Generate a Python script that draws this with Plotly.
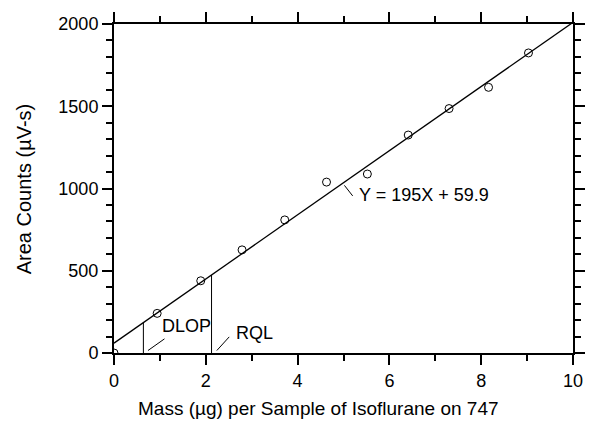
import plotly.graph_objects as go

# Calibration standards: mass (µg) vs. detector area counts (µV-s)
mass = [0.0, 0.94, 1.89, 2.79, 3.72, 4.63, 5.52, 6.41, 7.30, 8.16, 9.03]
area = [0.0, 241, 439, 627, 809, 1039, 1088, 1325, 1486, 1615, 1824]

# Linear fit Y = slope*X + intercept
slope = 195.0
intercept = 59.9
fit_x = [0.0, 10.0]

# Detection / quantitation limits (µg)
dlop = 0.64
rql = 2.125

FONT = "Liberation Sans, Arial, sans-serif"

fig = go.Figure()

fig.add_trace(go.Scatter(
    x=fit_x, y=[slope * v + intercept for v in fit_x],
    mode="lines", line=dict(color="black", width=1.3),
    hoverinfo="skip", showlegend=False,
))

for lim in (dlop, rql):
    fig.add_trace(go.Scatter(
        x=[lim, lim], y=[0, slope * lim + intercept],
        mode="lines", line=dict(color="black", width=1),
        hoverinfo="skip", showlegend=False,
    ))

fig.add_trace(go.Scatter(
    x=mass, y=area, mode="markers",
    marker=dict(symbol="circle-open", size=8, color="black", line=dict(width=1)),
    cliponaxis=True, showlegend=False,
))

# Leader lines for the labels
leaders = [
    (0.74, 15, 1.10, 86),     # DLOP
    (2.24, 15, 2.51, 98),     # RQL
    (5.02, 1019, 5.20, 955),  # equation
]
for x0, y0, x1, y1 in leaders:
    fig.add_shape(type="line", x0=x0, y0=y0, x1=x1, y1=y1,
                  line=dict(color="black", width=1))

labels = [
    (1.0, 166, "DLOP"),
    (2.62, 120, "RQL"),
    (5.30, 960, "Y = 195X + 59.9"),
]
for lx, ly, txt in labels:
    fig.add_annotation(x=lx, y=ly, text=txt, showarrow=False,
                       xanchor="left", yanchor="middle",
                       font=dict(family=FONT, size=18, color="black"))

# Axis titles placed as paper-referenced annotations
fig.add_annotation(xref="paper", yref="paper", x=0.4455, y=-0.168,
                   text="Mass (µg) per Sample of Isoflurane on 747",
                   showarrow=False, xanchor="center", yanchor="middle",
                   font=dict(family=FONT, size=19, color="black"))
fig.add_annotation(xref="paper", yref="paper", x=-0.1944, y=0.497,
                   text="Area Counts (µV-s)", textangle=-90,
                   showarrow=False, xanchor="center", yanchor="middle",
                   font=dict(family=FONT, size=20, color="black"))

axis_common = dict(
    showgrid=False, zeroline=False,
    showline=True, linecolor="black", linewidth=2,
    ticks="outside", tickcolor="black", tickwidth=1.5, ticklen=10,
    mirror="ticks",
    tickfont=dict(family=FONT, size=18, color="black"),
)

fig.update_xaxes(
    range=[0, 10], tickvals=[0, 2, 4, 6, 8, 10],
    minor=dict(ticks="outside", ticklen=6, tickwidth=1.5, tickcolor="black", dtick=1, showgrid=False),
    **axis_common,
)
fig.update_yaxes(
    range=[0, 2000], tickvals=[0, 500, 1000, 1500, 2000],
    minor=dict(ticks="outside", ticklen=6, tickwidth=1.5, tickcolor="black", dtick=100, showgrid=False),
    **axis_common,
)

fig.update_layout(
    width=597, height=435,
    margin=dict(l=114, r=15, t=13, b=82),
    plot_bgcolor="white", paper_bgcolor="white",
)

fig.write_html("out.html")
